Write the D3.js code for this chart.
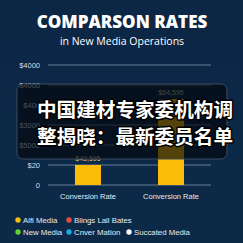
<!DOCTYPE html>
<html>
<head>
<meta charset="utf-8">
<script src="https://cdn.jsdelivr.net/npm/d3@7"></script>
<style>
  html, body { margin: 0; padding: 0; background: #0d2a4a; }
  svg { display: block; }
</style>
</head>
<body>
<svg id="chart" width="243" height="243"></svg>
<script>
const width = 243;
const height = 243;

// Data
const categories = ["Conversion Rate", "Conversion Rate"];
const values = [10, 43];
const valueLabels = ["$43,595", "$64,595"];
const yTicks = [0, 10, 20, 30, 40, 50, 60];
const yTickLabels = ["0", "$20", "$5000", "$3000", "$400", "$4000", "$4000"];
const legendNames = ["Alfi Media", "Blings Lall Bates", "New Media", "Cnver Mation", "Succated Media"];
const legendColors = ["#f6bd0c", "#ec4a3c", "#5ed42c", "#1fa6ee", "#ffffff"];
const overlayLines = ["中国建材专家委机构调", "整揭晓：最新委员名单"];

const svg = d3.select("#chart");

// Background
const grad = svg.append("defs").append("linearGradient")
  .attr("id", "bg").attr("x1", 0).attr("y1", 0).attr("x2", 0).attr("y2", 1);
grad.append("stop").attr("offset", "0%").attr("stop-color", "#0c2646");
grad.append("stop").attr("offset", "100%").attr("stop-color", "#0c2a48");
svg.append("rect").attr("width", width).attr("height", height).attr("fill", "url(#bg)");

// Title
svg.append("text")
  .attr("x", 122).attr("y", 28)
  .attr("text-anchor", "middle")
  .attr("fill", "#ffffff")
  .style("font-family", "'Open Sans', sans-serif")
  .style("font-weight", "800")
  .style("font-size", "17px")
  .text("COMPARSON RATES");

svg.append("text")
  .attr("x", 122).attr("y", 45)
  .attr("text-anchor", "middle")
  .attr("fill", "#ffffff")
  .style("font-family", "'Open Sans', sans-serif")
  .style("font-size", "10.5px")
  .text("in New Media Operations");

// Scales
const x = d3.scaleBand()
  .domain(d3.range(categories.length))
  .range([46.5, 212.5])
  .paddingInner(0.687)
  .paddingOuter(0.343);

const y = d3.scaleLinear()
  .domain([0, 60])
  .range([185, 65]);

// Gridlines
svg.append("g")
  .selectAll("line")
  .data(yTicks)
  .enter()
  .append("line")
  .attr("x1", 48).attr("x2", 211)
  .attr("y1", d => y(d)).attr("y2", d => y(d))
  .attr("stroke", "#8ea3bb")
  .attr("stroke-opacity", 0.7)
  .attr("stroke-width", 1);

// Y axis labels
const yAxis = d3.axisLeft(y)
  .tickValues(yTicks)
  .tickSize(0)
  .tickPadding(0)
  .tickFormat((d, i) => yTickLabels[i]);
svg.append("g")
  .attr("transform", "translate(40,0)")
  .call(yAxis)
  .call(g => g.select(".domain").remove())
  .call(g => g.selectAll("text")
    .attr("fill", "#d5dde6")
    .style("font-family", "'Liberation Sans', Arial, sans-serif")
    .style("font-size", "7.5px"));

// Bars
svg.append("g")
  .selectAll("rect")
  .data(values)
  .enter()
  .append("rect")
  .attr("x", (d, i) => x(i))
  .attr("y", d => y(d))
  .attr("width", x.bandwidth())
  .attr("height", d => y(0) - y(d))
  .attr("fill", "#fbbd08");

// Bar value labels
svg.append("g")
  .selectAll("text")
  .data(values)
  .enter()
  .append("text")
  .attr("x", (d, i) => x(i) + x.bandwidth() / 2)
  .attr("y", d => y(d) - 4)
  .attr("text-anchor", "middle")
  .attr("fill", "#d9c47a")
  .style("font-family", "'Liberation Sans', Arial, sans-serif")
  .style("font-size", "7px")
  .text((d, i) => valueLabels[i]);

// X axis labels
const xAxis = d3.axisBottom(x)
  .tickSize(0)
  .tickPadding(0)
  .tickFormat(i => categories[i]);
svg.append("g")
  .attr("transform", "translate(0,194)")
  .call(xAxis)
  .call(g => g.select(".domain").remove())
  .call(g => g.selectAll("text")
    .attr("fill", "#e6ebf0")
    .style("font-family", "'Liberation Sans', Arial, sans-serif")
    .style("font-size", "7.5px"));

// Legend
const legendPos = [[18, 220], [69, 220], [18, 232], [69, 232], [129, 232]];
const legend = svg.append("g")
  .selectAll("g")
  .data(legendNames)
  .enter()
  .append("g")
  .attr("transform", (d, i) => `translate(${legendPos[i][0]},${legendPos[i][1]})`);
legend.append("circle")
  .attr("r", 2.7)
  .attr("fill", (d, i) => legendColors[i]);
legend.append("text")
  .attr("x", 5)
  .attr("y", 2.8)
  .attr("fill", "#e6ebf0")
  .style("font-family", "'Liberation Sans', Arial, sans-serif")
  .style("font-size", "7.8px")
  .text(d => d);

// Overlay caption
svg.append("rect")
  .attr("x", 17).attr("y", 84)
  .attr("width", 210).attr("height", 75)
  .attr("rx", 6)
  .attr("fill", "#05080d")
  .attr("fill-opacity", 0.68)
  .attr("stroke", "#3b4a5c")
  .attr("stroke-width", 1);

svg.append("g")
  .selectAll("text")
  .data(overlayLines)
  .enter()
  .append("text")
  .attr("x", 37)
  .attr("y", (d, i) => 117 + i * 27)
  .attr("textLength", 196)
  .attr("lengthAdjust", "spacingAndGlyphs")
  .attr("fill", "#ffffff")
  .attr("stroke", "#000000")
  .attr("stroke-width", 3)
  .attr("stroke-linejoin", "round")
  .style("paint-order", "stroke")
  .style("font-family", "'Noto Sans CJK SC', sans-serif")
  .style("font-weight", "700")
  .style("font-size", "19.5px")
  .text(d => d);
</script>
</body>
</html>
